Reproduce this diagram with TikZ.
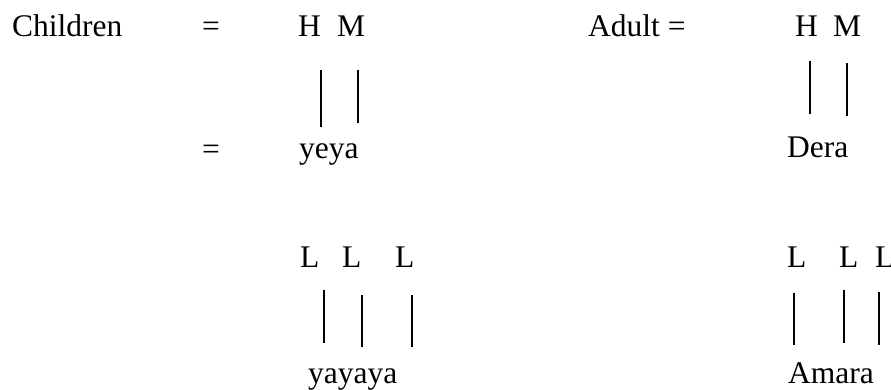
\documentclass[tikz,border=0pt]{standalone}
\usepackage{fontspec}
\setmainfont{Liberation Serif}
\usepackage{tikz}

\begin{document}
\begin{tikzpicture}[x=1pt,y=-1pt,
                    word/.style={anchor=base west,inner sep=0pt,
                                 font=\fontsize{31.5}{38}\selectfont},
                    assoc/.style={line width=1.8pt}]
  \useasboundingbox (0,0) rectangle (891,389);

  % children
  \node[word] (child)  at (12,36)   {Children};
  \node[word] (eqa)    at (202,36)  {=};
  \node[word] (H1)     at (298,36)  {H};
  \node[word] (M1)     at (337,36)  {M};
  \node[word] (eqb)    at (202,159) {=};
  \node[word] (yeya)   at (299,158) {yeya};
  \node[word] (L1)     at (300,267) {L};
  \node[word] (L2)     at (342,267) {L};
  \node[word] (L3)     at (395,267) {L};
  \node[word] (yayaya) at (308,383) {yayaya};

  % adult
  \node[word] (adult)  at (588,36)  {Adult =};
  \node[word] (H2)     at (795,36)  {H};
  \node[word] (M2)     at (833,36)  {M};
  \node[word] (dera)   at (787,157) {Dera};
  \node[word] (L4)     at (787,267) {L};
  \node[word] (L5)     at (839,267) {L};
  \node[word] (L6)     at (875,267) {L};
  \node[word] (amara)  at (788,383) {Amara};

  \draw[assoc] ([shift={(23,34)}]H1.base west) -- ([shift={(22,-31)}]yeya.base west);
  \draw[assoc] ([shift={(21,34)}]M1.base west) -- ([shift={(59,-35)}]yeya.base west);
  \draw[assoc] ([shift={(15,25)}]H2.base west) -- ([shift={(23,-43)}]dera.base west);
  \draw[assoc] ([shift={(14,27)}]M2.base west) -- ([shift={(60,-41)}]dera.base west);

  \draw[assoc] ([shift={(24,23)}]L1.base west) -- ([shift={(16,-40)}]yayaya.base west);
  \draw[assoc] ([shift={(20,28)}]L2.base west) -- ([shift={(54,-36)}]yayaya.base west);
  \draw[assoc] ([shift={(17,28)}]L3.base west) -- ([shift={(104,-36)}]yayaya.base west);
  \draw[assoc] ([shift={(7,26)}]L4.base west)  -- ([shift={(6,-38)}]amara.base west);
  \draw[assoc] ([shift={(5,23)}]L5.base west)  -- ([shift={(56,-40)}]amara.base west);
  \draw[assoc] ([shift={(4,25)}]L6.base west)  -- ([shift={(91,-38)}]amara.base west);
\end{tikzpicture}
\end{document}
